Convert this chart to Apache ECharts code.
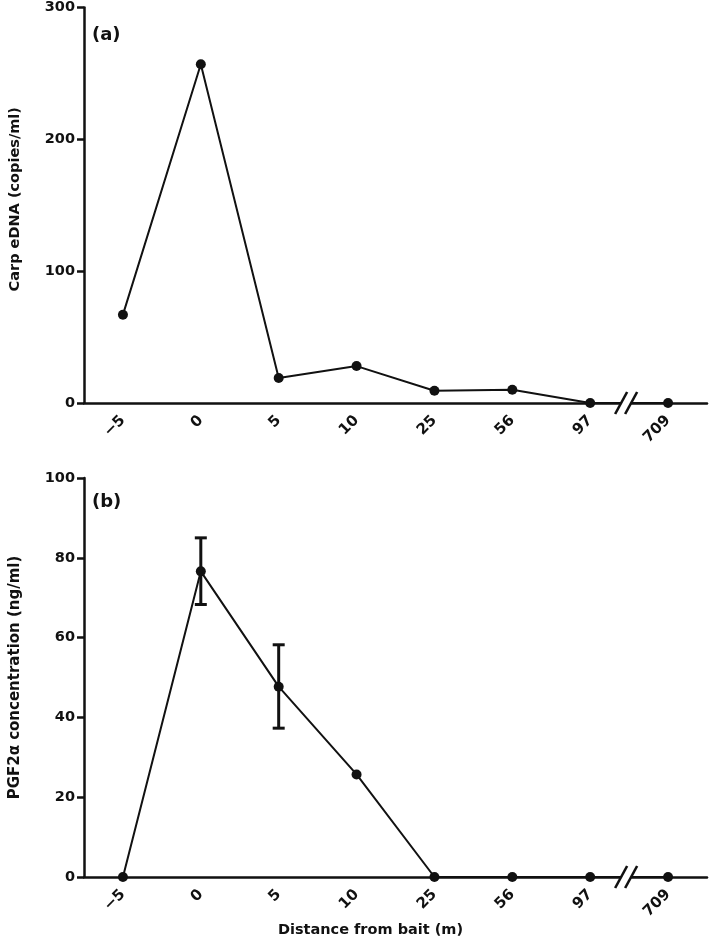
<!DOCTYPE html>
<html>
<head>
<meta charset="utf-8">
<script src="https://cdn.jsdelivr.net/npm/echarts@6/dist/echarts.min.js"></script>
<style>
html,body{margin:0;padding:0;background:#fff;}
#chart{width:709px;height:945px;}
</style>
</head>
<body>
<div id="chart"></div>
<script>
// Data
const categories = ['\u22125', '0', '5', '10', '25', '56', '97', '709'];
const carpEDNA = [67, 257, 19, 28, 9.3, 10, 0, 0];
const pgfMean = [0, 76.6, 47.7, 25.7, 0, 0, 0, 0];
const pgfLow = [null, 68.3, 37.3, null, null, null, null, null];
const pgfHigh = [null, 85, 58.2, null, null, null, null, null];
const yTicksA = [0, 100, 200, 300];
const yTicksB = [0, 20, 40, 60, 80, 100];
const breakAfterIndex = 6;

const FONT = '"DejaVu Sans", "Liberation Sans", Arial, sans-serif';
const BLACK = '#111';

const errData = [];
pgfMean.forEach((v, i) => {
  if (pgfLow[i] != null) errData.push([i, pgfLow[i], pgfHigh[i]]);
});

function breakRender(params, api) {
  const p1 = api.coord([breakAfterIndex, 0]);
  const p2 = api.coord([breakAfterIndex + 1, 0]);
  const cx = (p1[0] + p2[0]) / 2 - 3;
  const y = p1[1];
  const st = { stroke: BLACK, lineWidth: 2.6 };
  return {
    type: 'group',
    children: [
      { type: 'rect', shape: { x: cx - 5, y: y - 3, width: 10, height: 6 }, style: { fill: '#fff' } },
      { type: 'line', shape: { x1: cx - 11, y1: y + 11, x2: cx + 1, y2: y - 11 }, style: st },
      { type: 'line', shape: { x1: cx - 1, y1: y + 11, x2: cx + 11, y2: y - 11 }, style: st }
    ]
  };
}

function errRender(params, api) {
  const x = api.value(0);
  const lo = api.coord([x, api.value(1)]);
  const hi = api.coord([x, api.value(2)]);
  const st = { stroke: BLACK, lineWidth: 3 };
  return {
    type: 'group',
    children: [
      { type: 'line', shape: { x1: lo[0], y1: lo[1], x2: hi[0], y2: hi[1] }, style: st },
      { type: 'line', shape: { x1: lo[0] - 6, y1: lo[1], x2: lo[0] + 6, y2: lo[1] }, style: st },
      { type: 'line', shape: { x1: hi[0] - 6, y1: hi[1], x2: hi[0] + 6, y2: hi[1] }, style: st }
    ]
  };
}

function xAxisCfg(gi, withName) {
  const c = {
    type: 'category',
    gridIndex: gi,
    data: categories,
    boundaryGap: true,
    axisLine: { lineStyle: { color: BLACK, width: 2.5 } },
    axisTick: { alignWithLabel: true, length: 7, lineStyle: { color: BLACK, width: 2.5 } },
    axisLabel: { rotate: 45, margin: 15, color: BLACK, fontFamily: FONT, fontWeight: 'bold', fontSize: 15, interval: 0 },
    splitLine: { show: false }
  };
  if (withName) {
    c.name = 'Distance from bait (m)';
    c.nameLocation = 'middle';
    c.nameGap = 42;
    c.nameTextStyle = { color: BLACK, fontFamily: FONT, fontWeight: 'bold', fontSize: 14.5, padding: [0, 50, 0, 0] };
  }
  return c;
}

function yAxisCfg(gi, ticks, name, pad, fs) {
  return {
    type: 'value',
    gridIndex: gi,
    min: ticks[0],
    max: ticks[ticks.length - 1],
    interval: ticks[1] - ticks[0],
    name: name,
    nameLocation: 'middle',
    nameGap: 61,
    nameTextStyle: { color: BLACK, fontFamily: FONT, fontWeight: 'bold', fontSize: fs, padding: pad },
    axisLine: { show: true, lineStyle: { color: BLACK, width: 2.5 } },
    axisTick: { show: true, length: 7, lineStyle: { color: BLACK, width: 2.5 } },
    axisLabel: { margin: 9, color: BLACK, fontFamily: FONT, fontWeight: 'bold', fontSize: 14.5 },
    splitLine: { show: false }
  };
}

const chart = echarts.init(document.getElementById('chart'), null, { renderer: 'canvas' });
chart.setOption({
  animation: false,
  backgroundColor: '#fff',
  title: [
    { text: '(a)', left: 87, top: 21, textStyle: { color: BLACK, fontFamily: FONT, fontWeight: 'bold', fontSize: 18 } },
    { text: '(b)', left: 87, top: 488, textStyle: { color: BLACK, fontFamily: FONT, fontWeight: 'bold', fontSize: 18 } }
  ],
  grid: [
    { left: 79, top: 5.5, width: 628, height: 397.5 },
    { left: 79, top: 478, width: 628, height: 399 }
  ],
  xAxis: [xAxisCfg(0, false), xAxisCfg(1, true)],
  yAxis: [
    yAxisCfg(0, yTicksA, 'Carp eDNA (copies/ml)', [0, 0, 0, 12], 14.5),
    yAxisCfg(1, yTicksB, 'PGF2\u03b1 concentration (ng/ml)', [0, 0, 0, 0], 15)
  ],
  series: [
    {
      type: 'line', xAxisIndex: 0, yAxisIndex: 0, data: carpEDNA,
      symbol: 'circle', symbolSize: 10, z: 3,
      lineStyle: { color: BLACK, width: 2 }, itemStyle: { color: BLACK }
    },
    {
      type: 'line', xAxisIndex: 1, yAxisIndex: 1, data: pgfMean,
      symbol: 'circle', symbolSize: 10, z: 3,
      lineStyle: { color: BLACK, width: 2 }, itemStyle: { color: BLACK }
    },
    {
      type: 'custom', xAxisIndex: 1, yAxisIndex: 1, data: errData,
      renderItem: errRender, z: 4, clip: false
    },
    {
      type: 'custom', xAxisIndex: 0, yAxisIndex: 0, data: [[breakAfterIndex, 0]],
      renderItem: breakRender, z: 10, clip: false
    },
    {
      type: 'custom', xAxisIndex: 1, yAxisIndex: 1, data: [[breakAfterIndex, 0]],
      renderItem: breakRender, z: 10, clip: false
    }
  ]
});
</script>
</body>
</html>
